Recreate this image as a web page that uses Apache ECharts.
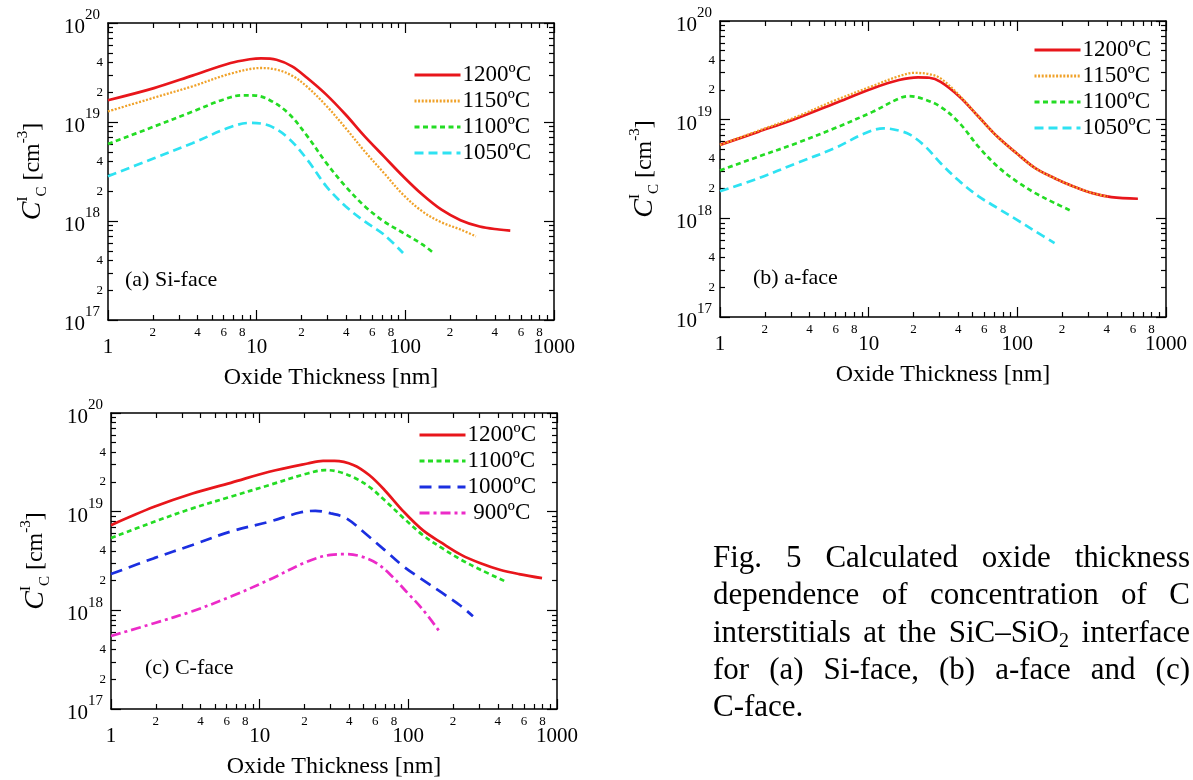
<!DOCTYPE html>
<html>
<head>
<meta charset="utf-8">
<title>C interstitials vs oxide thickness</title>
<script src="https://cdn.jsdelivr.net/npm/echarts@6.0.0/dist/echarts.min.js"></script>
<style>
  html, body { margin: 0; padding: 0; background: #fff; }
  #main { width: 1193px; height: 780px; }
</style>
</head>
<body>
<div id="main"></div>
<script>
var FONT = 'Liberation Serif';

// tick values of the log axes
var xMajorTicks = [1, 10, 100, 1000];
var xMinorTicks = [2, 3, 4, 5, 6, 7, 8, 9, 20, 30, 40, 50, 60, 70, 80, 90, 200, 300, 400, 500, 600, 700, 800, 900];
var xMinorLabels = [2, 4, 6, 8, 20, 40, 60, 80, 200, 400, 600, 800];
var yMajorTicks = [1e17, 1e18, 1e19, 1e20];
var yMinorTicks = [2e17, 3e17, 4e17, 5e17, 6e17, 7e17, 8e17, 9e17,
                   2e18, 3e18, 4e18, 5e18, 6e18, 7e18, 8e18, 9e18,
                   2e19, 3e19, 4e19, 5e19, 6e19, 7e19, 8e19, 9e19];
var yMinorLabels = [2e17, 4e17, 2e18, 4e18, 2e19, 4e19];

// [oxide thickness (nm), C interstitial concentration (cm^-3)]
// (a) Si-face
var siFace1200 = [[1,1.66e19],[2.04,2.2e19],[3.69,2.94e19],[6.68,3.94e19],[8.99,4.3e19],[10.7,4.4e19],[13.6,4.26e19],[17.3,3.65e19],[21.9,2.78e19],[29.4,1.89e19],[39.6,1.19e19],[53.3,7.16e18],[71.7,4.5e18],[96.5,2.83e18],[130,1.85e18],[175,1.3e18],[235,1.02e18],[316,8.8e17],[426,8.2e17],[508,8.0e17]];
var siFace1150 = [[1,1.28e19],[2.04,1.76e19],[3.69,2.29e19],[6.68,3.08e19],[10.7,3.51e19],[13.6,3.38e19],[17.3,2.94e19],[21.9,2.26e19],[29.4,1.46e19],[39.6,8.7e18],[53.3,5.05e18],[71.7,3.06e18],[96.5,1.85e18],[130,1.25e18],[175,9.7e17],[235,8.2e17],[298,7.0e17]];
var siFace1100 = [[1,6.0e18],[2.04,9.0e18],[3.69,1.27e19],[5.93,1.68e19],[7.98,1.86e19],[9.83,1.85e19],[12.1,1.68e19],[16.3,1.23e19],[21.9,7.2e18],[29.4,3.86e18],[39.6,2.24e18],[53.3,1.41e18],[71.7,9.9e17],[96.5,7.6e17],[130,5.8e17],[155,4.75e17]];
var siFace1050 = [[1,2.83e18],[2.04,4.3e18],[3.69,6.1e18],[6.68,8.9e18],[8.99,9.8e18],[12.1,9.2e18],[16.3,6.9e18],[21.9,4.17e18],[29.4,2.24e18],[39.6,1.41e18],[53.3,9.9e17],[71.7,7.3e17],[96.5,4.75e17]];
// (b) a-face
var aFace1200 = [[1,5.55e18],[1.82,7.56e18],[3.27,1.03e19],[5.89,1.46e19],[10.6,2.07e19],[16.0,2.52e19],[21.5,2.68e19],[25.6,2.66e19],[30.5,2.42e19],[40.9,1.71e19],[54.9,1.07e19],[73.6,6.7e18],[98.8,4.57e18],[132,3.22e18],[178,2.55e18],[239,2.1e18],[320,1.8e18],[429,1.64e18],[647,1.58e18]];
var aFace1150 = [[1,5.55e18],[1.82,7.74e18],[3.27,1.07e19],[5.89,1.56e19],[10.6,2.19e19],[16.0,2.76e19],[20.2,2.98e19],[25.6,2.89e19],[30.5,2.62e19],[40.9,1.75e19],[54.9,1.07e19],[73.6,6.7e18],[98.8,4.57e18],[132,3.22e18],[178,2.55e18],[239,2.1e18],[320,1.8e18],[405,1.66e18]];
var aFace1100 = [[1,3.06e18],[1.82,4.23e18],[3.27,5.77e18],[5.89,8.17e18],[10.6,1.2e19],[16.0,1.64e19],[18.5,1.73e19],[22.8,1.64e19],[30.5,1.35e19],[40.9,9.2e18],[54.9,5.3e18],[73.6,3.35e18],[98.8,2.37e18],[132,1.8e18],[178,1.43e18],[225,1.21e18]];
var aFace1050 = [[1,1.88e18],[1.82,2.55e18],[3.27,3.62e18],[5.89,5.13e18],[9.43,7.28e18],[12.6,8.17e18],[16.0,7.74e18],[19.1,7.0e18],[24.1,5.33e18],[30.5,3.62e18],[40.9,2.37e18],[54.9,1.67e18],[73.6,1.27e18],[98.8,9.7e17],[132,7.4e17],[178,5.6e17]];
// (c) C-face
var cFace1200 = [[1,7.3e18],[1.95,1.12e19],[3.53,1.53e19],[6.4,1.96e19],[11.6,2.54e19],[21.0,3.08e19],[26.7,3.27e19],[31.9,3.27e19],[43.0,2.96e19],[54.5,2.35e19],[69.1,1.66e19],[93.0,1.0e19],[125,6.5e18],[169,4.79e18],[227,3.65e18],[306,3.0e18],[412,2.58e18],[555,2.33e18],[793,2.12e18]];
var cFace1100 = [[1,5.4e18],[1.95,7.9e18],[3.53,1.08e19],[6.4,1.42e19],[11.6,1.86e19],[21.0,2.44e19],[27.5,2.64e19],[33.9,2.54e19],[43.0,2.22e19],[54.5,1.79e19],[69.1,1.31e19],[93.0,8.6e18],[125,5.8e18],[169,4.26e18],[227,3.25e18],[306,2.58e18],[464,1.92e18]];
var cFace1000 = [[1,2.33e18],[1.95,3.38e18],[3.53,4.6e18],[6.4,6.3e18],[11.6,7.9e18],[18.7,9.8e18],[23.7,1.02e19],[30.1,9.6e18],[38.1,8.6e18],[51.4,6.0e18],[69.1,4.1e18],[93.0,2.78e18],[125,2.04e18],[169,1.5e18],[227,1.1e18],[272,8.7e17]];
var cFace900 = [[1,5.5e17],[1.95,7.4e17],[3.53,9.8e17],[6.4,1.38e18],[11.6,2.04e18],[21.0,3.13e18],[30.1,3.65e18],[38.1,3.71e18],[48.4,3.51e18],[61.4,3.0e18],[77.9,2.2e18],[98.8,1.5e18],[125,1.02e18],[162,6.1e17]];

var captionLines = [
  ['Fig.', '5', 'Calculated', 'oxide', 'thickness'],
  ['dependence', 'of', 'concentration', 'of', 'C'],
  ['interstitials', 'at', 'the', 'SiC\u2013SiO{sub|2}', 'interface'],
  ['for', '(a)', 'Si-face,', '(b)', 'a-face', 'and', '(c)'],
  ['C-face.']
];

var styles = {
  '1200\u00baC': { color: '#e8161b', width: 2.7, type: 'solid' },
  '1150\u00baC': { color: '#f0a22a', width: 2.3, type: [2, 1.6] },
  '1100\u00baC': { color: '#24dc24', width: 2.7, type: [5, 3.5] },
  '1050\u00baC': { color: '#2ee2f2', width: 2.7, type: [9, 5] },
  '1000\u00baC': { color: '#1b2fe0', width: 2.7, type: [12, 7] },
  ' 900\u00baC': { color: '#ec2bc8', width: 2.7, type: [10, 4, 3, 4] }
};

var panels = [
  { grid: { left: 108, top: 23, width: 446, height: 297 }, tag: '(a) Si-face', tagAt: [125, 280], legendAt: [413, 63],
    lines: [['1200\u00baC', siFace1200], ['1150\u00baC', siFace1150], ['1100\u00baC', siFace1100], ['1050\u00baC', siFace1050]] },
  { grid: { left: 720, top: 21, width: 446, height: 296 }, tag: '(b) a-face', tagAt: [753, 278], legendAt: [1033, 38],
    lines: [['1200\u00baC', aFace1200], ['1150\u00baC', aFace1150], ['1100\u00baC', aFace1100], ['1050\u00baC', aFace1050]] },
  { grid: { left: 111, top: 413, width: 446, height: 296 }, tag: '(c) C-face', tagAt: [145, 668], legendAt: [418, 423],
    lines: [['1200\u00baC', cFace1200], ['1100\u00baC', cFace1100], ['1000\u00baC', cFace1000], [' 900\u00baC', cFace900]] }
];

function leading(v) {
  var e = Math.floor(Math.log10(v) + 1e-9);
  return String(Math.round(v / Math.pow(10, e)));
}
function expOf(v) { return Math.round(Math.log10(v)); }

var axisLineStyle = { show: true, onZero: false, lineStyle: { color: '#000', width: 1.5 } };
var tickStyle = { color: '#000', width: 1.2 };

function makeX(g) {
  var base = { gridIndex: g, type: 'log', logBase: 10, min: 1, max: 1000, splitLine: { show: false }, minorTick: { show: false } };
  return [
    Object.assign({}, base, {
      position: 'bottom', axisLine: axisLineStyle,
      axisTick: { show: true, inside: true, length: 10, customValues: xMajorTicks, lineStyle: tickStyle },
      axisLabel: { customValues: xMajorTicks, formatter: function (v) { return String(Math.round(v)); },
                   fontFamily: FONT, fontSize: 21, color: '#000', margin: 17 },
      name: 'Oxide Thickness [nm]', nameLocation: 'middle', nameGap: 46, nameMoveOverlap: false,
      nameTextStyle: { fontFamily: FONT, fontSize: 24, color: '#000' }
    }),
    Object.assign({}, base, {
      position: 'bottom', axisLine: { show: false },
      axisTick: { show: true, inside: true, length: 5, customValues: xMinorTicks, lineStyle: tickStyle },
      axisLabel: { customValues: xMinorLabels, formatter: leading, fontFamily: FONT, fontSize: 13, color: '#000', margin: 6 }
    }),
    Object.assign({}, base, {
      position: 'top', axisLine: axisLineStyle,
      axisTick: { show: true, inside: true, length: 10, customValues: xMajorTicks, lineStyle: tickStyle },
      axisLabel: { show: false }
    }),
    Object.assign({}, base, {
      position: 'top', axisLine: { show: false },
      axisTick: { show: true, inside: true, length: 5, customValues: xMinorTicks, lineStyle: tickStyle },
      axisLabel: { show: false }
    })
  ];
}

function makeY(g) {
  var base = { gridIndex: g, type: 'log', logBase: 10, min: 1e17, max: 1e20, splitLine: { show: false }, minorTick: { show: false } };
  return [
    Object.assign({}, base, {
      position: 'left', axisLine: axisLineStyle,
      axisTick: { show: true, inside: true, length: 10, customValues: yMajorTicks, lineStyle: tickStyle },
      axisLabel: {
        customValues: yMajorTicks, margin: 8, color: '#000', fontFamily: FONT, fontSize: 20,
        formatter: function (v) { return '{b|10}{s|' + expOf(v) + '}'; },
        rich: {
          b: { fontFamily: FONT, fontSize: 21, color: '#000', lineHeight: 30, verticalAlign: 'bottom' },
          s: { fontFamily: FONT, fontSize: 15, color: '#000', lineHeight: 15, verticalAlign: 'top' }
        }
      },
      name: '{i|C}{sup|I}{sub|C} [cm{sup|-3}]', nameLocation: 'middle', nameRotate: 90, nameGap: 58, nameMoveOverlap: false,
      nameTextStyle: {
        fontFamily: FONT, fontSize: 24, color: '#000', lineHeight: 34,
        rich: {
          i: { fontFamily: FONT, fontSize: 28, fontStyle: 'italic', color: '#000', lineHeight: 34 },
          sup: { fontFamily: FONT, fontSize: 15, color: '#000', lineHeight: 15, verticalAlign: 'top' },
          sub: { fontFamily: FONT, fontSize: 15, color: '#000', lineHeight: 15, verticalAlign: 'bottom' }
        }
      }
    }),
    Object.assign({}, base, {
      position: 'left', axisLine: { show: false },
      axisTick: { show: true, inside: true, length: 5, customValues: yMinorTicks, lineStyle: tickStyle },
      axisLabel: { customValues: yMinorLabels, formatter: leading, fontFamily: FONT, fontSize: 13, color: '#000', margin: 5 }
    }),
    Object.assign({}, base, {
      position: 'right', axisLine: axisLineStyle,
      axisTick: { show: true, inside: true, length: 10, customValues: yMajorTicks, lineStyle: tickStyle },
      axisLabel: { show: false }
    }),
    Object.assign({}, base, {
      position: 'right', axisLine: { show: false },
      axisTick: { show: true, inside: true, length: 5, customValues: yMinorTicks, lineStyle: tickStyle },
      axisLabel: { show: false }
    })
  ];
}

var grids = [], xAxes = [], yAxes = [], series = [], legends = [], graphics = [];
panels.forEach(function (p, g) {
  grids.push(Object.assign({ containLabel: false, outerBoundsMode: 'none' }, p.grid));
  xAxes = xAxes.concat(makeX(g));
  yAxes = yAxes.concat(makeY(g));
  p.lines.forEach(function (l) {
    var st = styles[l[0]];
    series.push({
      type: 'line', name: l[0], data: l[1], xAxisIndex: g * 4, yAxisIndex: g * 4,
      symbol: 'none', showSymbol: false, smooth: 0.35, clip: true,
      lineStyle: { color: st.color, width: st.width, type: st.type },
      itemStyle: { color: st.color }
    });
  });
  legends.push({
    orient: 'vertical', left: p.legendAt[0], top: p.legendAt[1], selectedMode: false,
    data: p.lines.map(function (l) { return l[0]; }),
    itemWidth: 46, itemHeight: 14, itemGap: 2, padding: 0,
    itemStyle: { opacity: 0 },
    lineStyle: { width: 3 },
    textStyle: { fontFamily: FONT, fontSize: 23, color: '#000', lineHeight: 24, padding: [0, 0, 0, -3] }
  });
  graphics.push({
    type: 'text', x: p.tagAt[0], y: p.tagAt[1],
    style: { text: p.tag, fontFamily: FONT, fontSize: 22, fill: '#000', verticalAlign: 'middle' }
  });
});

// caption, justified word by word
var ctx = document.createElement('canvas').getContext('2d');
var CAP = 31, CAP_SUB = 20;
function measure(str, size) { ctx.font = size + 'px "' + FONT + '"'; return ctx.measureText(str).width; }
function wordWidth(w) {
  var m = w.match(/^(.*)\{sub\|(.*)\}$/);
  return m ? measure(m[1], CAP) + measure(m[2], CAP_SUB) : measure(w, CAP);
}
var capLeft = 713, capRight = 1190, capTop = 559, capStep = 37.2;
captionLines.forEach(function (words, li) {
  var widths = words.map(wordWidth);
  var total = widths.reduce(function (a, b) { return a + b; }, 0);
  var last = li === captionLines.length - 1;
  var gap = (!last && words.length > 1) ? (capRight - capLeft - total) / (words.length - 1) : measure(' ', CAP);
  var x = capLeft;
  words.forEach(function (w, wi) {
    graphics.push({
      type: 'text', x: x, y: capTop + li * capStep,
      style: {
        text: w, fontFamily: FONT, fontSize: CAP, fill: '#000', verticalAlign: 'middle', lineHeight: 36,
        rich: { sub: { fontFamily: FONT, fontSize: CAP_SUB, fill: '#000', lineHeight: 20, verticalAlign: 'bottom' } }
      }
    });
    x += widths[wi] + gap;
  });
});

var chart = echarts.init(document.getElementById('main'));
chart.setOption({
  animation: false,
  backgroundColor: '#fff',
  grid: grids,
  xAxis: xAxes,
  yAxis: yAxes,
  legend: legends,
  series: series,
  graphic: graphics
});
</script>
</body>
</html>
